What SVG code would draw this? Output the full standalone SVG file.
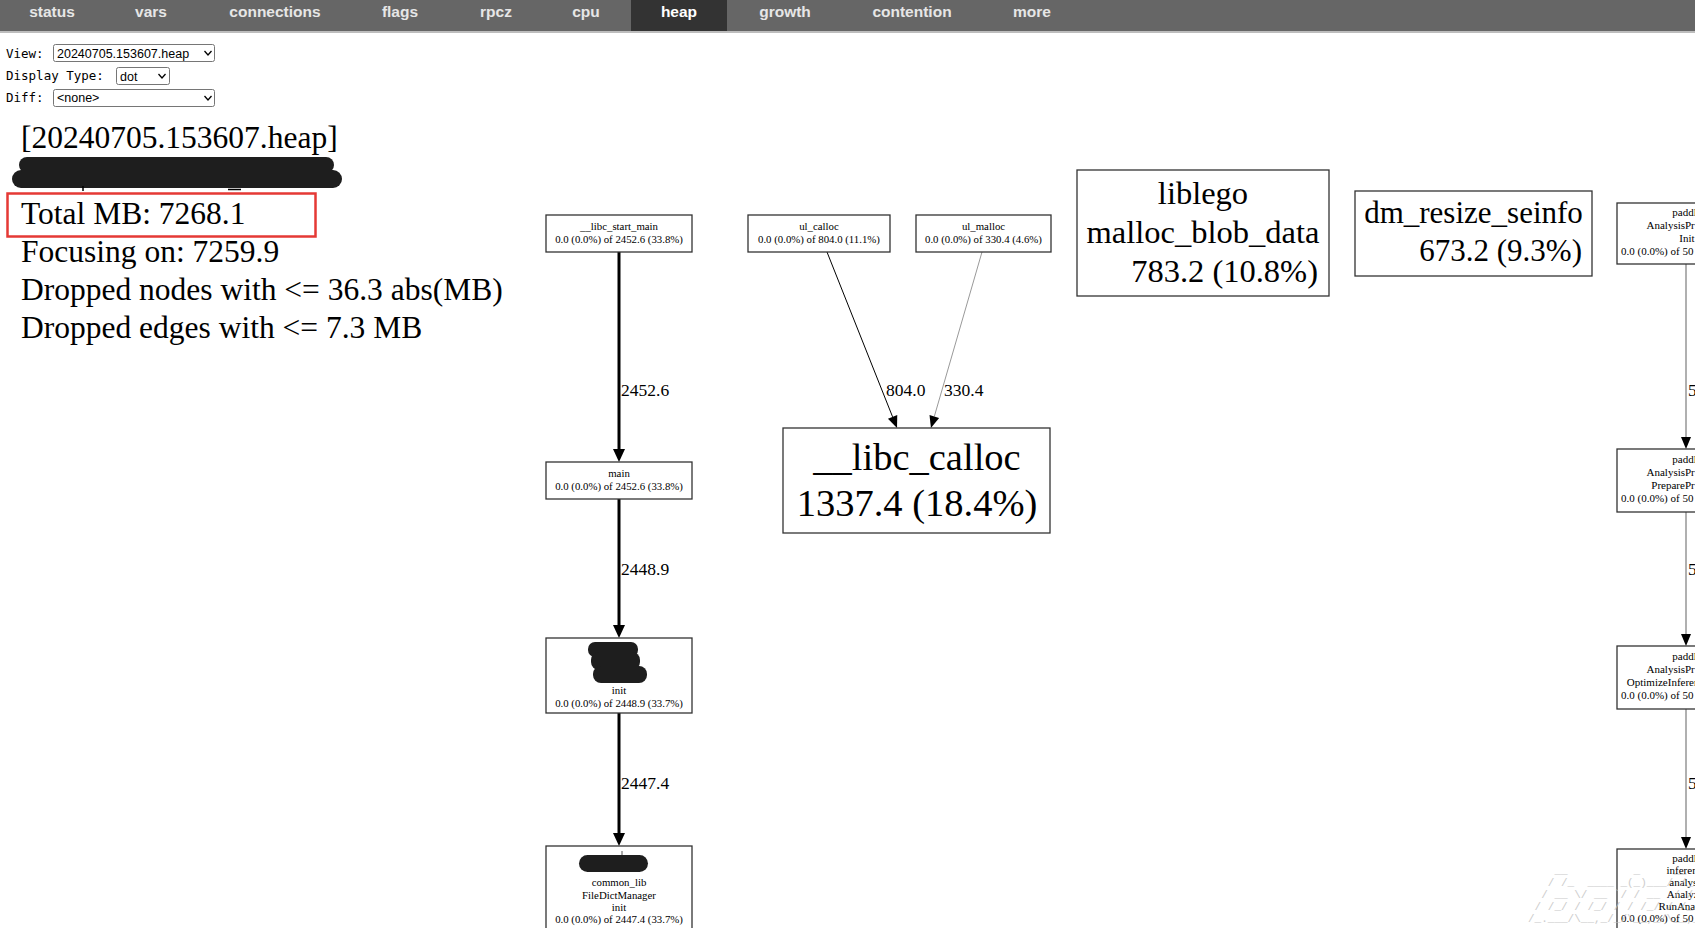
<svg xmlns="http://www.w3.org/2000/svg" width="1695" height="928" viewBox="0 0 1695 928">
<style>
.nav{font-family:"Liberation Sans",Arial,sans-serif;font-weight:bold;font-size:15.5px;fill:#e6e6e6;text-anchor:middle}
.lbl{font-family:"DejaVu Sans Mono","Liberation Mono",monospace;font-size:12.5px;fill:#000}
.sel{fill:#fff;stroke:#767676;stroke-width:1}
.seltx{font-family:"Liberation Sans",Arial,sans-serif;font-size:12.5px;fill:#000}
.chev{fill:none;stroke:#000;stroke-width:1.3}
.hdr{font-family:"Liberation Serif","Times New Roman",serif;font-size:31.5px;fill:#000}
.box{fill:#fff;stroke:#333;stroke-width:1.3}
.s{font-family:"Liberation Serif","Times New Roman",serif;font-size:10.8px;fill:#000;text-anchor:middle}
.sl{font-family:"Liberation Serif","Times New Roman",serif;font-size:11px;fill:#000}
.el{font-family:"Liberation Serif","Times New Roman",serif;font-size:17.5px;fill:#000}
.big{font-family:"Liberation Serif","Times New Roman",serif;fill:#000}
.red{fill:#1e1e1e}
.wm{font-family:"Liberation Mono","DejaVu Sans Mono",monospace;font-size:11px;fill:#c4c4c4;white-space:pre}
</style>
<defs>
<marker id="ahB" markerUnits="userSpaceOnUse" markerWidth="16" markerHeight="16" refX="0" refY="7" orient="auto" overflow="visible"><path d="M0,1 L13,7 L0,13 z" fill="#000"/></marker>
<marker id="ahS" markerUnits="userSpaceOnUse" markerWidth="14" markerHeight="14" refX="0" refY="5.5" orient="auto" overflow="visible"><path d="M0,0.5 L12,5.5 L0,10.5 z" fill="#000"/></marker>
</defs>
<rect x="0" y="0" width="1695" height="928" fill="#fff"/>

<g id="navbar">
<rect x="0" y="0" width="1695" height="31" fill="#666"/>
<rect x="0" y="31" width="1695" height="2" fill="#bdbdbd"/>
<rect x="631" y="0" width="96" height="31" fill="#333"/>
<text class="nav" x="52" y="17">status</text>
<text class="nav" x="151" y="17">vars</text>
<text class="nav" x="275" y="17">connections</text>
<text class="nav" x="400" y="17">flags</text>
<text class="nav" x="496" y="17">rpcz</text>
<text class="nav" x="586" y="17">cpu</text>
<text class="nav" x="679" y="17" style="fill:#fff">heap</text>
<text class="nav" x="785" y="17">growth</text>
<text class="nav" x="912" y="17">contention</text>
<text class="nav" x="1032" y="17">more</text>
</g>

<g id="controls">
<text class="lbl" x="6" y="57.5">View:</text>
<rect class="sel" x="53.5" y="44.5" width="161" height="17" rx="2"/>
<text class="seltx" x="57" y="57.5">20240705.153607.heap</text>
<path class="chev" d="M204.5,51 L208,55 L211.5,51"/>
<text class="lbl" x="6" y="80">Display Type:</text>
<rect class="sel" x="116.5" y="67.5" width="53" height="17" rx="2"/>
<text class="seltx" x="120" y="80.5">dot</text>
<path class="chev" d="M158.5,74 L162,78 L165.5,74"/>
<text class="lbl" x="6" y="101.5">Diff:</text>
<rect class="sel" x="53.5" y="89.5" width="161" height="17" rx="2"/>
<text class="seltx" x="57" y="102">&lt;none&gt;</text>
<path class="chev" d="M204.5,96 L208,100 L211.5,96"/>
</g>

<g id="legend">
<text class="hdr" x="21" y="148">[20240705.153607.heap]</text>
<path d="M27,165 L326,165" stroke="#1e1e1e" stroke-width="16" stroke-linecap="round"/>
<path d="M21,179 L333,179" stroke="#1e1e1e" stroke-width="18" stroke-linecap="round"/>
<path d="M83,186 L83,191" stroke="#000" stroke-width="1.5"/>
<path d="M228,189.5 L241,189.5" stroke="#000" stroke-width="1.5"/>
<text class="hdr" x="21" y="224">Total MB: 7268.1</text>
<rect x="7.5" y="193.5" width="308" height="43" fill="none" stroke="#e53935" stroke-width="2.5"/>
<text class="hdr" x="21" y="262">Focusing on: 7259.9</text>
<text class="hdr" x="21" y="300">Dropped nodes with &lt;= 36.3 abs(MB)</text>
<text class="hdr" x="21" y="338">Dropped edges with &lt;= 7.3 MB</text>
</g>

<g id="edges">
<path d="M619,252 L619,449" stroke="#000" stroke-width="3" marker-end="url(#ahB)"/>
<text class="el" x="621" y="396">2452.6</text>
<path d="M619,499 L619,625" stroke="#000" stroke-width="3" marker-end="url(#ahB)"/>
<text class="el" x="621" y="575">2448.9</text>
<path d="M619,713 L619,833" stroke="#000" stroke-width="3" marker-end="url(#ahB)"/>
<text class="el" x="621" y="789">2447.4</text>
<path d="M827,252 L892.6,416.9" stroke="#000" stroke-width="1" marker-end="url(#ahS)"/>
<text class="el" x="886" y="396">804.0</text>
<path d="M982,252 L934.3,416.5" stroke="#999" stroke-width="1" marker-end="url(#ahS)"/>
<text class="el" x="944" y="396">330.4</text>
<path d="M1686,264 L1686,437" stroke="#b0b0b0" stroke-width="2" marker-end="url(#ahS)"/>
<text class="el" x="1688" y="396">5</text>
<path d="M1686,512 L1686,634" stroke="#b0b0b0" stroke-width="2" marker-end="url(#ahS)"/>
<text class="el" x="1688" y="575">5</text>
<path d="M1686,709 L1686,837" stroke="#b0b0b0" stroke-width="2" marker-end="url(#ahS)"/>
<text class="el" x="1688" y="789">5</text>
</g>

<g id="node-libc_start_main">
<rect class="box" x="546" y="215" width="146" height="37"/>
<text class="s" x="619" y="230">__libc_start_main</text>
<text class="s" x="619" y="243">0.0 (0.0%) of 2452.6 (33.8%)</text>
</g>
<g id="node-main">
<rect class="box" x="546" y="462" width="146" height="37"/>
<text class="s" x="619" y="477">main</text>
<text class="s" x="619" y="490">0.0 (0.0%) of 2452.6 (33.8%)</text>
</g>
<g id="node-init">
<rect class="box" x="546" y="638" width="146" height="75"/>
<rect class="red" x="588" y="642" width="50" height="15" rx="7"/>
<rect class="red" x="591" y="652" width="49" height="18" rx="8"/>
<rect class="red" x="593" y="666" width="54" height="17" rx="8"/>
<text class="s" x="619" y="694">init</text>
<text class="s" x="619" y="706.5">0.0 (0.0%) of 2448.9 (33.7%)</text>
</g>
<g id="node-filedictmanager-init">
<rect class="box" x="546" y="846" width="146" height="90"/>
<path d="M622,851 L622,855" stroke="#555" stroke-width="1"/>
<rect class="red" x="579" y="855" width="69" height="17" rx="8.5"/>
<text class="s" x="619" y="886">common_lib</text>
<text class="s" x="619" y="898.5">FileDictManager</text>
<text class="s" x="619" y="910.5">init</text>
<text class="s" x="619" y="922.5">0.0 (0.0%) of 2447.4 (33.7%)</text>
</g>
<g id="node-ul_calloc">
<rect class="box" x="748" y="215" width="142" height="37"/>
<text class="s" x="819" y="230">ul_calloc</text>
<text class="s" x="819" y="243">0.0 (0.0%) of 804.0 (11.1%)</text>
</g>
<g id="node-ul_malloc">
<rect class="box" x="916" y="215" width="135" height="37"/>
<text class="s" x="983.5" y="230">ul_malloc</text>
<text class="s" x="983.5" y="243">0.0 (0.0%) of 330.4 (4.6%)</text>
</g>
<g id="node-libc_calloc">
<rect class="box" x="783" y="428" width="267" height="105"/>
<text class="big" x="917" y="470" font-size="38.5" text-anchor="middle">__libc_calloc</text>
<text class="big" x="917" y="516" font-size="38.5" text-anchor="middle">1337.4 (18.4%)</text>
</g>
<g id="node-malloc_blob_data">
<rect class="box" x="1077" y="170" width="252" height="126"/>
<text class="big" x="1203" y="204" font-size="32.5" text-anchor="middle">liblego</text>
<text class="big" x="1203" y="243" font-size="32.5" text-anchor="middle">malloc_blob_data</text>
<text class="big" x="1318" y="282" font-size="32.5" text-anchor="end">783.2 (10.8%)</text>
</g>
<g id="node-dm_resize_seinfo">
<rect class="box" x="1355" y="191" width="237" height="85"/>
<text class="big" x="1473.5" y="223" font-size="31" text-anchor="middle">dm_resize_seinfo</text>
<text class="big" x="1582" y="261" font-size="31" text-anchor="end">673.2 (9.3%)</text>
</g>
<g id="node-predictor-init">
<rect class="box" x="1617" y="203" width="140" height="61"/>
<text class="sl" x="1672.3" y="216">paddl</text>
<text class="sl" x="1646.5" y="229">AnalysisPr</text>
<text class="sl" x="1679.3" y="242">Init</text>
<text class="sl" x="1621" y="255">0.0 (0.0%) of 50</text>
</g>
<g id="node-predictor-prepare">
<rect class="box" x="1617" y="449" width="140" height="63"/>
<text class="sl" x="1672.3" y="463">paddl</text>
<text class="sl" x="1646.5" y="476">AnalysisPr</text>
<text class="sl" x="1651.3" y="489">PreparePr</text>
<text class="sl" x="1621" y="502">0.0 (0.0%) of 50</text>
</g>
<g id="node-predictor-optimize">
<rect class="box" x="1617" y="646" width="140" height="63"/>
<text class="sl" x="1672.3" y="660">paddl</text>
<text class="sl" x="1646.5" y="673">AnalysisPr</text>
<text class="sl" x="1626.8" y="686">OptimizeInferen</text>
<text class="sl" x="1621" y="699">0.0 (0.0%) of 50</text>
</g>
<g id="node-analyzer-run">
<rect class="box" x="1617" y="849" width="140" height="90"/>
<text class="sl" x="1672.3" y="862">paddl</text>
<text class="sl" x="1666.5" y="874">inferen</text>
<text class="sl" x="1669.3" y="886">analys</text>
<text class="sl" x="1666.8" y="898">Analyz</text>
<text class="sl" x="1658.6" y="910">RunAna</text>
<text class="sl" x="1621" y="922">0.0 (0.0%) of 50</text>
</g>

<g id="watermark" opacity="0.85">
<text class="wm" x="1528" y="874" xml:space="preserve">    __          _     __</text>
<text class="wm" x="1528" y="886" xml:space="preserve">   / /_  ____ _(_)___/ /_  __</text>
<text class="wm" x="1528" y="898" xml:space="preserve">  / __ \/ __ `/ / __  / / / /</text>
<text class="wm" x="1528" y="910" xml:space="preserve"> / /_/ / /_/ / / /_/ / /_/ /</text>
<text class="wm" x="1528" y="922" xml:space="preserve">/_.___/\__,_/_/\__,_/\__,_/</text>
</g>
</svg>
